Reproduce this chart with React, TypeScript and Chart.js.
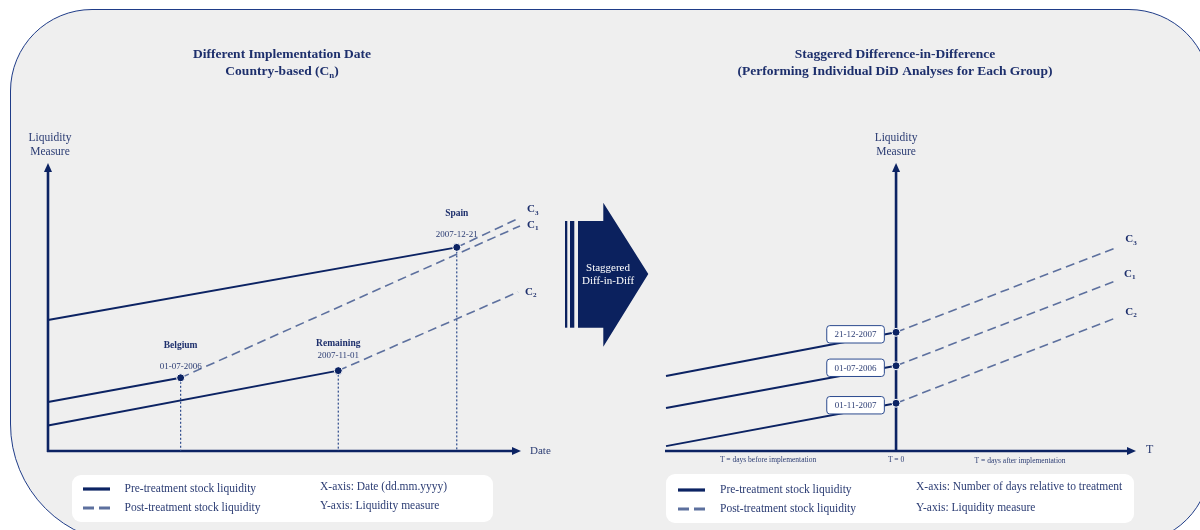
import React, { useEffect, useRef } from 'react';
import { Chart, registerables } from 'chart.js';

Chart.register(...registerables);

// ---------------- data ----------------
// Left panel: calendar-time view (abstract date axis 0..100, liquidity 0..100)
const leftGroups = ['C_3', 'C_1', 'C_2'];
const leftEventNames = ['Spain', 'Belgium', 'Remaining'];
const leftEventDates = ['2007-12-21', '01-07-2006', '2007-11-01'];
const leftStartX = 0;
const leftPreStartY = [45.8, 17.1, 8.9];
const leftEventX = [86.6, 28.1, 61.5];
const leftEventY = [71.2, 25.6, 28.1];
const leftPostEndX = [100, 100, 99.6];
const leftPostEndY = [81.6, 78.7, 55.6];

// Right panel: event-time view (T relative to treatment)
const rightGroups = ['C_3', 'C_1', 'C_2'];
const rightEventDates = ['21-12-2007', '01-07-2006', '01-11-2007'];
const rightStartX = -100;
const rightPreStartY = [26.2, 15.0, 1.7];
const rightEventX = [0, 0, 0];
const rightEventY = [41.5, 29.8, 16.7];
const rightPostEndX = [95.7, 95.2, 95.7];
const rightPostEndY = [71.1, 59.4, 46.6];

// texts
const leftTitleLines = ['Different Implementation Date', 'Country-based (C_n)'];
const rightTitleLines = ['Staggered Difference-in-Difference', '(Performing Individual DiD Analyses for Each Group)'];
const yAxisTitle = ['Liquidity', 'Measure'];
const leftXAxisTitle = 'Date';
const rightXAxisTitle = 'T';
const rightBottomLabels = ['T = days before implementation', 'T = 0', 'T = days after implementation'];
const arrowText = ['Staggered', 'Diff-in-Diff'];
const legendItems = ['Pre-treatment stock liquidity', 'Post-treatment stock liquidity'];
const leftAxisNotes = ['X-axis: Date (dd.mm.yyyy)', 'Y-axis: Liquidity measure'];
const rightAxisNotes = ['X-axis: Number of days relative to treatment', 'Y-axis: Liquidity measure'];

// ---------------- styles ----------------
const SERIF = '"Liberation Serif", "Times New Roman", serif';
const NAVY = '#0c2363';
const DASHC = '#5d709e';
const DROPC = '#2c4a8c';
const TEXT = '#1d2f6c';
const TEXT2 = '#2b3c73';
const leftNameOffsets = [-34, -32, -27];
const leftDateOffsets = [-13, -11, -15];
const leftGroupOffsets = [-8, -1, 0];
const rightGroupOffsets = [-8, -7, -6];

function parseRich(s: string) {
  const parts: { t: string; sub?: boolean }[] = [];
  const re = /_(\w)/g;
  let last = 0;
  let m: RegExpExecArray | null;
  while ((m = re.exec(s))) {
    if (m.index > last) parts.push({ t: s.slice(last, m.index) });
    parts.push({ t: m[1], sub: true });
    last = m.index + m[0].length;
  }
  if (last < s.length) parts.push({ t: s.slice(last) });
  return parts;
}

function font(size: number, bold: boolean) {
  return `${bold ? 'bold ' : ''}${size}px ${SERIF}`;
}

function drawRich(ctx: CanvasRenderingContext2D, s: string, x: number, y: number, size: number, bold: boolean, color: string, align: 'left' | 'center') {
  const parts = parseRich(s);
  const subSize = size * 0.65;
  let total = 0;
  for (const p of parts) {
    ctx.font = font(p.sub ? subSize : size, bold);
    total += ctx.measureText(p.t).width;
  }
  let cx = align === 'center' ? x - total / 2 : x;
  ctx.fillStyle = color;
  ctx.textAlign = 'left';
  ctx.textBaseline = 'middle';
  for (const p of parts) {
    ctx.font = font(p.sub ? subSize : size, bold);
    ctx.fillText(p.t, cx, p.sub ? y + size * 0.28 : y);
    cx += ctx.measureText(p.t).width;
  }
}

function drawText(ctx: CanvasRenderingContext2D, s: string, x: number, y: number, size: number, bold: boolean, color: string, align: CanvasTextAlign) {
  ctx.font = font(size, bold);
  ctx.fillStyle = color;
  ctx.textAlign = align;
  ctx.textBaseline = 'middle';
  ctx.fillText(s, x, y);
}

function drawAxes(ctx: CanvasRenderingContext2D, xStart: number, baseY: number, yAxisX: number, xTip: number, yTip: number) {
  ctx.save();
  ctx.strokeStyle = NAVY;
  ctx.fillStyle = NAVY;
  ctx.lineWidth = 2.6;
  ctx.beginPath();
  ctx.moveTo(yAxisX, baseY + 1);
  ctx.lineTo(yAxisX, yTip + 8);
  ctx.stroke();
  ctx.beginPath();
  ctx.moveTo(yAxisX, yTip);
  ctx.lineTo(yAxisX - 4, yTip + 9);
  ctx.lineTo(yAxisX + 4, yTip + 9);
  ctx.closePath();
  ctx.fill();
  ctx.beginPath();
  ctx.moveTo(xStart - 1, baseY);
  ctx.lineTo(xTip - 8, baseY);
  ctx.stroke();
  ctx.beginPath();
  ctx.moveTo(xTip, baseY);
  ctx.lineTo(xTip - 9, baseY - 4);
  ctx.lineTo(xTip - 9, baseY + 4);
  ctx.closePath();
  ctx.fill();
  ctx.restore();
}

function roundRect(ctx: CanvasRenderingContext2D, x: number, y: number, w: number, h: number, r: number) {
  ctx.beginPath();
  ctx.moveTo(x + r, y);
  ctx.lineTo(x + w - r, y);
  ctx.arcTo(x + w, y, x + w, y + r, r);
  ctx.lineTo(x + w, y + h - r);
  ctx.arcTo(x + w, y + h, x + w - r, y + h, r);
  ctx.lineTo(x + r, y + h);
  ctx.arcTo(x, y + h, x, y + h - r, r);
  ctx.lineTo(x, y + r);
  ctx.arcTo(x, y, x + r, y, r);
  ctx.closePath();
}

function drawLegend(ctx: CanvasRenderingContext2D, bx: number, by: number, bw: number, bh: number, lineX: number, textX: number, noteX: number, rowY: number[], noteY: number[], notes: string[]) {
  ctx.save();
  ctx.fillStyle = '#ffffff';
  roundRect(ctx, bx, by, bw, bh, 9);
  ctx.fill();
  ctx.lineWidth = 3.2;
  ctx.strokeStyle = NAVY;
  ctx.beginPath();
  ctx.moveTo(lineX, rowY[0]);
  ctx.lineTo(lineX + 27, rowY[0]);
  ctx.stroke();
  ctx.strokeStyle = DASHC;
  ctx.setLineDash([11, 5]);
  ctx.beginPath();
  ctx.moveTo(lineX, rowY[1]);
  ctx.lineTo(lineX + 27, rowY[1]);
  ctx.stroke();
  ctx.setLineDash([]);
  legendItems.forEach((t, i) => drawText(ctx, t, textX, rowY[i], 11.5, false, TEXT2, 'left'));
  notes.forEach((t, i) => drawText(ctx, t, noteX, noteY[i], 11.5, false, TEXT2, 'left'));
  ctx.restore();
}

function buildDatasets(startX: number, preStartY: number[], evX: number[], evY: number[], endX: number[], endY: number[], withDrops: boolean) {
  const ds: any[] = [];
  ds.push({
    type: 'scatter',
    data: evX.map((x, i) => ({ x, y: evY[i] })),
    pointRadius: 4,
    backgroundColor: NAVY,
    borderColor: '#ffffff',
    borderWidth: 1,
    clip: false,
  });
  evX.forEach((x, i) => {
    ds.push({
      type: 'line',
      data: [{ x: startX, y: preStartY[i] }, { x, y: evY[i] }],
      borderColor: NAVY,
      borderWidth: 2,
      pointRadius: 0,
      clip: false,
    });
    ds.push({
      type: 'line',
      data: [{ x, y: evY[i] }, { x: endX[i], y: endY[i] }],
      borderColor: DASHC,
      borderWidth: 1.6,
      borderDash: [9, 5],
      pointRadius: 0,
      clip: false,
    });
    if (withDrops) {
      ds.push({
        type: 'line',
        data: [{ x, y: evY[i] }, { x, y: 0 }],
        borderColor: DROPC,
        borderWidth: 1.2,
        borderDash: [2, 2],
        pointRadius: 0,
        clip: false,
      });
    }
  });
  return ds;
}

const leftPanelPlugin = {
  id: 'leftPanel',
  beforeDatasetsDraw(chart: any) {
    const { ctx, chartArea: a } = chart;
    drawAxes(ctx, a.left, a.bottom, a.left, a.right + 1, a.top - 2);
  },
  afterDatasetsDraw(chart: any) {
    const { ctx, chartArea: a } = chart;
    const xs = chart.scales.x;
    const ys = chart.scales.y;
    ctx.save();
    yAxisTitle.forEach((t, i) => drawText(ctx, t, a.left + 2, a.top - 27 + i * 13.5, 11.5, false, TEXT2, 'center'));
    drawText(ctx, leftXAxisTitle, a.right + 10, a.bottom, 11, false, TEXT2, 'left');
    leftEventNames.forEach((name, i) => {
      const px = xs.getPixelForValue(leftEventX[i]);
      const py = ys.getPixelForValue(leftEventY[i]);
      drawText(ctx, name, px, py + leftNameOffsets[i], 9.5, true, TEXT, 'center');
      drawText(ctx, leftEventDates[i], px, py + leftDateOffsets[i], 9, false, TEXT2, 'center');
    });
    leftGroups.forEach((g, i) => {
      const px = xs.getPixelForValue(leftPostEndX[i]);
      const py = ys.getPixelForValue(leftPostEndY[i]);
      drawRich(ctx, g, px + 7, py + leftGroupOffsets[i], 11, true, TEXT, 'left');
    });
    ctx.restore();
  },
  afterDraw(chart: any) {
    const { ctx } = chart;
    ctx.save();
    // titles
    leftTitleLines.forEach((t, i) => drawRich(ctx, t, 282, 55 + i * 16.5, 13.5, true, TEXT, 'center'));
    rightTitleLines.forEach((t, i) => drawRich(ctx, t, 895, 55 + i * 16.5, 13.5, true, TEXT, 'center'));
    // arrow
    ctx.fillStyle = '#0b215e';
    ctx.fillRect(565, 221, 2.3, 106.7);
    ctx.fillRect(570, 221, 4.3, 106.7);
    ctx.beginPath();
    ctx.moveTo(578, 221);
    ctx.lineTo(603.3, 221);
    ctx.lineTo(603.3, 202.7);
    ctx.lineTo(648.3, 274);
    ctx.lineTo(603.3, 346.7);
    ctx.lineTo(603.3, 327.7);
    ctx.lineTo(578, 327.7);
    ctx.closePath();
    ctx.fill();
    arrowText.forEach((t, i) => drawText(ctx, t, 608, 268 + i * 13, 11, false, '#ffffff', 'center'));
    // legends
    drawLegend(ctx, 72, 475, 421, 47, 83, 124.5, 320, [489, 508], [486.5, 506], leftAxisNotes);
    drawLegend(ctx, 666, 474, 468, 49, 678, 720, 916, [490, 509], [487, 508.3], rightAxisNotes);
    ctx.restore();
  },
};

const rightPanelPlugin = {
  id: 'rightPanel',
  beforeDatasetsDraw(chart: any) {
    const { ctx, chartArea: a } = chart;
    const zero = chart.scales.x.getPixelForValue(0);
    drawAxes(ctx, a.left, a.bottom, zero, a.right, a.top - 2);
  },
  afterDatasetsDraw(chart: any) {
    const { ctx, chartArea: a } = chart;
    const xs = chart.scales.x;
    const ys = chart.scales.y;
    const zero = xs.getPixelForValue(0);
    ctx.save();
    yAxisTitle.forEach((t, i) => drawText(ctx, t, zero, a.top - 27 + i * 13.5, 11.5, false, TEXT2, 'center'));
    drawText(ctx, rightXAxisTitle, a.right + 10, a.bottom - 1, 12, false, TEXT2, 'left');
    const bottomOffsets = [-128, 0, 124];
    const bottomDy = [9.5, 9.5, 10.5];
    rightBottomLabels.forEach((t, i) => drawText(ctx, t, zero + bottomOffsets[i], a.bottom + bottomDy[i], 7.5, false, TEXT2, 'center'));
    rightEventDates.forEach((d, i) => {
      const py = ys.getPixelForValue(rightEventY[i]) + 2;
      const cx = xs.getPixelForValue(rightEventX[i]) - 40.5;
      ctx.fillStyle = '#ffffff';
      ctx.strokeStyle = '#2b4a8e';
      ctx.lineWidth = 1;
      roundRect(ctx, cx - 28.8, py - 8.7, 57.6, 17.4, 3);
      ctx.fill();
      ctx.stroke();
      drawText(ctx, d, cx, py + 0.5, 9, false, TEXT2, 'center');
    });
    rightGroups.forEach((g, i) => {
      const px = xs.getPixelForValue(rightPostEndX[i]);
      const py = ys.getPixelForValue(rightPostEndY[i]);
      drawRich(ctx, g, px + 9, py + rightGroupOffsets[i], 11, true, TEXT, 'left');
    });
    ctx.restore();
  },
};

function baseOptions(padding: any, xmin: number, xmax: number): any {
  return {
    responsive: false,
    animation: false,
    devicePixelRatio: 1,
    events: [],
    layout: { padding },
    plugins: { legend: { display: false }, tooltip: { enabled: false }, title: { display: false } },
    scales: {
      x: { type: 'linear', min: xmin, max: xmax, display: false },
      y: { type: 'linear', min: 0, max: 100, display: false },
    },
  };
}

export default function App() {
  const leftRef = useRef<HTMLCanvasElement>(null);
  const rightRef = useRef<HTMLCanvasElement>(null);

  useEffect(() => {
    const left = new Chart(leftRef.current as HTMLCanvasElement, {
      type: 'line',
      data: { datasets: buildDatasets(leftStartX, leftPreStartY, leftEventX, leftEventY, leftPostEndX, leftPostEndY, true) },
      options: baseOptions({ left: 48, right: 680, top: 165, bottom: 79 }, 0, 100),
      plugins: [leftPanelPlugin],
    } as any);
    const right = new Chart(rightRef.current as HTMLCanvasElement, {
      type: 'line',
      data: { datasets: buildDatasets(rightStartX, rightPreStartY, rightEventX, rightEventY, rightPostEndX, rightPostEndY, false) },
      options: baseOptions({ left: 666, right: 64, top: 165, bottom: 79 }, -100, 104.3),
      plugins: [rightPanelPlugin],
    } as any);
    return () => {
      left.destroy();
      right.destroy();
    };
  }, []);

  return (
    <div style={{ position: 'absolute', left: 0, top: 0, width: 1200, height: 530, overflow: 'hidden', background: '#ffffff' }}>
      <div
        style={{
          position: 'absolute',
          left: 10,
          top: 9,
          width: 1201,
          height: 535,
          boxSizing: 'border-box',
          border: '1.6px solid #1f3c88',
          borderRadius: '82px 82px 82px 120px',
          background: '#efefef',
        }}
      />
      <canvas ref={leftRef} width={1200} height={530} style={{ position: 'absolute', left: 0, top: 0 }} />
      <canvas ref={rightRef} width={1200} height={530} style={{ position: 'absolute', left: 0, top: 0 }} />
    </div>
  );
}
